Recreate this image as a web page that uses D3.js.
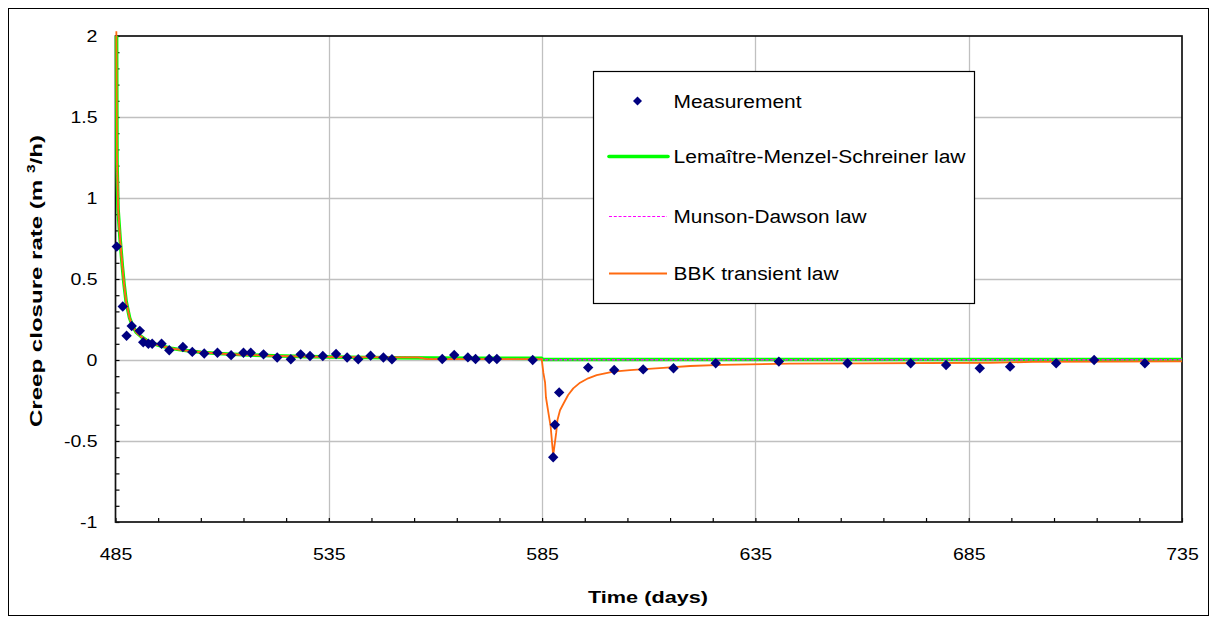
<!DOCTYPE html>
<html>
<head>
<meta charset="utf-8">
<script src="https://cdn.jsdelivr.net/npm/d3@7"></script>
<style>
  body { margin: 0; background: #fff; }
  svg { display: block; }
  text { font-family: "Liberation Sans", Arial, sans-serif; fill: #000; }
</style>
</head>
<body>
<svg id="chart" width="1217" height="624"></svg>
<script>
// ---- Measured creep closure rate (days, m3/h) ----
const measDay = [485.3, 486.7, 487.6, 488.8, 490.7, 491.5, 492.7, 493.6, 495.8, 497.6,
  500.8, 503.0, 505.8, 508.9, 512.1, 515.0, 516.7, 519.7, 522.9, 526.1,
  528.4, 530.6, 533.6, 536.7, 539.3, 541.9, 544.8, 547.8, 549.8, 561.6,
  564.4, 567.6, 569.4, 572.6, 574.4, 582.8, 587.6, 588.0, 589.0, 595.8,
  601.9, 608.7, 615.8, 625.7, 640.5, 656.6, 671.4, 679.7, 687.6, 694.7,
  705.5, 714.4, 726.3];
const measRate = [0.70, 0.33, 0.15, 0.21, 0.18, 0.11, 0.10, 0.10, 0.10, 0.06,
  0.08, 0.05, 0.04, 0.045, 0.03, 0.045, 0.045, 0.035, 0.015, 0.005,
  0.035, 0.025, 0.025, 0.037, 0.015, 0.005, 0.027, 0.015, 0.005, 0.006,
  0.031, 0.016, 0.006, 0.006, 0.006, 0.0, -0.60, -0.40, -0.20, -0.047,
  -0.062, -0.058, -0.051, -0.02, -0.01, -0.02, -0.02, -0.031, -0.051, -0.041,
  -0.02, 0.0, -0.02];

// ---- Lemaître-Menzel-Schreiner law ----
const lmsDay = [485.25, 485.35, 485.6, 486.1, 486.6, 487.0, 487.5, 488.3, 489.0, 489.9,
  491.0, 492.3, 494.0, 495.5, 498.0, 501.0, 505.0, 509.0, 515.0, 522.0,
  530.0, 540.0, 550.0, 560.0, 570.0, 584.9, 585.2, 620.0, 680.0, 735.0];
const lmsRate = [2.0, 1.22, 0.93, 0.74, 0.58, 0.47, 0.36, 0.26, 0.21, 0.17,
  0.145, 0.12, 0.10, 0.088, 0.072, 0.06, 0.048, 0.04, 0.032, 0.026,
  0.021, 0.017, 0.014, 0.012, 0.011, 0.010, 0.003, 0.003, 0.003, 0.003];

// ---- Munson-Dawson law ----
const mdDay = [485.35, 485.6, 486.1, 486.6, 487.0, 487.5, 488.3, 489.0, 489.9, 491.0,
  492.3, 494.0, 495.5, 498.0, 501.0, 505.0, 509.0, 515.0, 522.0, 530.0,
  540.0, 550.0, 556.0, 558.0, 584.9, 585.2, 620.0, 680.0, 735.0];
const mdRate = [1.25, 0.94, 0.74, 0.58, 0.47, 0.36, 0.26, 0.21, 0.17, 0.145,
  0.12, 0.10, 0.088, 0.072, 0.06, 0.048, 0.04, 0.032, 0.026, 0.021,
  0.018, 0.016, 0.016, 0.006, 0.005, 0.002, 0.002, 0.002, 0.002];

// ---- BBK transient law ----
const bbkDay = [485.2, 485.35, 485.6, 486.1, 486.6, 487.0, 487.5, 488.3, 489.0, 489.9,
  491.0, 492.3, 494.0, 495.5, 498.0, 501.0, 505.0, 509.0, 515.0, 522.0,
  530.0, 540.0, 550.0, 556.0, 558.0, 584.9, 585.3, 585.7, 585.9, 586.5,
  587.0, 587.4, 587.6, 587.9, 588.3, 588.6, 589.2, 590.0, 591.1, 592.3,
  593.9, 595.8, 597.8, 601.7, 605.6, 613.4, 619.7, 627.0, 643.0, 660.0,
  690.0, 700.0, 735.0];
const bbkRate = [2.03, 1.25, 0.94, 0.74, 0.58, 0.47, 0.36, 0.26, 0.21, 0.17,
  0.145, 0.12, 0.10, 0.088, 0.072, 0.06, 0.048, 0.04, 0.032, 0.026,
  0.021, 0.018, 0.016, 0.016, 0.006, 0.005, -0.08, -0.14, -0.23, -0.33,
  -0.41, -0.53, -0.59, -0.53, -0.45, -0.37, -0.31, -0.27, -0.216, -0.175,
  -0.14, -0.113, -0.093, -0.072, -0.062, -0.049, -0.037, -0.03, -0.022, -0.021,
  -0.017, -0.012, -0.008];

// ---- Axis ticks and labels ----
const xTicks = [485, 535, 585, 635, 685, 735];
const yTicks = [2, 1.5, 1, 0.5, 0, -0.5, -1];
const xMinorStep = 10;
const yMinorStep = 0.1;

const seriesNames = ["Measurement", "Lemaître-Menzel-Schreiner law", "Munson-Dawson law", "BBK transient law"];

const svg = d3.select("#chart");
const W = 1217, H = 624;

const x = d3.scaleLinear().domain([485, 735]).range([115.5, 1182]);
const y = d3.scaleLinear().domain([-1, 2]).range([522, 36]);

// widen a text element to a given factor of its natural length
function widen(sel, k) {
  sel.each(function () {
    const w = this.getComputedTextLength();
    this.setAttribute("textLength", (w * k).toFixed(1));
    this.setAttribute("lengthAdjust", "spacingAndGlyphs");
  });
}
function fitTo(sel, len) {
  sel.attr("textLength", len).attr("lengthAdjust", "spacingAndGlyphs");
}

// outer frame
svg.append("rect").attr("x", 8.5).attr("y", 8.5).attr("width", W - 17).attr("height", H - 17)
  .attr("fill", "#fff").attr("stroke", "#000").attr("stroke-width", 1);

// grid lines
const grid = svg.append("g");
grid.selectAll("line.h").data(yTicks.slice(1, -1)).join("line")
  .attr("x1", x(485)).attr("x2", x(735))
  .attr("y1", d => Math.round(y(d)) + 0.5).attr("y2", d => Math.round(y(d)) + 0.5)
  .attr("stroke", "#c0c0c0").attr("stroke-width", 1.3);
grid.selectAll("line.v").data(xTicks.slice(1, -1)).join("line")
  .attr("y1", y(2)).attr("y2", y(-1))
  .attr("x1", d => Math.round(x(d)) + 0.5).attr("x2", d => Math.round(x(d)) + 0.5)
  .attr("stroke", "#c0c0c0").attr("stroke-width", 1.3);

// inward minor ticks via d3 axes
const yMinor = d3.range(-1, 2 + 1e-9, yMinorStep);
const xMinor = d3.range(485, 735 + 1e-9, xMinorStep);
const yTickAxis = svg.append("g").attr("transform", `translate(${x(485)},0)`)
  .call(d3.axisLeft(y).tickValues(yMinor).tickSize(-4).tickFormat(""));
const xTickAxis = svg.append("g").attr("transform", `translate(0,${y(-1)})`)
  .call(d3.axisBottom(x).tickValues(xMinor).tickSize(-4).tickFormat(""));
[yTickAxis, xTickAxis].forEach(g => {
  g.select(".domain").remove();
  g.selectAll("line").attr("stroke", "#000").attr("stroke-width", 1.2);
});

// plot frame
svg.append("rect").attr("x", x(485)).attr("y", y(2))
  .attr("width", x(735) - x(485)).attr("height", y(-1) - y(2))
  .attr("fill", "none").attr("stroke", "#111").attr("stroke-width", 1.7);

// tick labels
const yLab = svg.append("g").attr("transform", `translate(${x(485)},0)`)
  .call(d3.axisLeft(y).tickValues(yTicks).tickSize(0).tickPadding(18).tickFormat(d => String(d)));
yLab.select(".domain").remove();
yLab.selectAll("text").attr("font-size", 16).attr("font-family", "Liberation Sans, Arial, sans-serif")
  .attr("fill", "#000").call(widen, 1.22);

const xLab = svg.append("g").attr("transform", `translate(0,${y(-1)})`)
  .call(d3.axisBottom(x).tickValues(xTicks).tickSize(0).tickPadding(27).tickFormat(d => String(d)));
xLab.select(".domain").remove();
xLab.selectAll("text").attr("font-size", 16).attr("font-family", "Liberation Sans, Arial, sans-serif")
  .attr("fill", "#000").call(widen, 1.22);

// axis titles
svg.append("text").attr("x", 648).attr("y", 603).attr("text-anchor", "middle")
  .attr("font-size", 17).attr("font-weight", "bold").text("Time (days)").call(fitTo, 120);

const yt = svg.append("text").attr("transform", "translate(42,281) rotate(-90)")
  .attr("text-anchor", "middle").attr("font-size", 17).attr("font-weight", "bold");
yt.append("tspan").text("Creep closure rate (m ");
yt.append("tspan").attr("font-size", 11).attr("dy", -7).text("3");
yt.append("tspan").attr("dy", 7).text("/h)");
yt.call(fitTo, 292);

// curves
const plot = svg.append("g");
const lineGen = d3.line().x(d => x(d[0])).y(d => y(d[1]));
const lmsPts = d3.zip(lmsDay, lmsRate);
const mdPts = d3.zip(mdDay, mdRate);
const bbkPts = d3.zip(bbkDay, bbkRate);

plot.append("path").datum(lmsPts).attr("d", lineGen)
  .attr("fill", "none").attr("stroke", "#00ff00").attr("stroke-width", 3.6).attr("stroke-linejoin", "round");
plot.append("path").datum(mdPts).attr("d", lineGen)
  .attr("fill", "none").attr("stroke", "#ff00ff").attr("stroke-width", 1.4).attr("stroke-dasharray", "3,1.8");
plot.append("path").datum(bbkPts).attr("d", lineGen)
  .attr("fill", "none").attr("stroke", "#ff6a10").attr("stroke-width", 1.8).attr("stroke-linejoin", "round");

// measurement diamonds
const diamond = r => `M0,${-r}L${r},0L0,${r}L${-r},0Z`;
plot.selectAll("path.meas").data(d3.zip(measDay, measRate)).join("path")
  .attr("class", "meas")
  .attr("transform", d => `translate(${x(d[0])},${y(d[1])})`)
  .attr("d", diamond(5.2)).attr("fill", "#000080");

// legend
const lg = svg.append("g");
lg.append("rect").attr("x", 593.5).attr("y", 71.5).attr("width", 381).attr("height", 232)
  .attr("fill", "#fff").attr("stroke", "#000").attr("stroke-width", 1.2);
const legY = [101, 156.5, 216.5, 273.5];
const legLen = [128, 292, 193, 165];
lg.append("path").attr("transform", `translate(637.5,${legY[0]})`).attr("d", diamond(4.5)).attr("fill", "#000080");
lg.append("line").attr("x1", 609).attr("x2", 668).attr("y1", legY[1]).attr("y2", legY[1])
  .attr("stroke", "#00ff00").attr("stroke-width", 3.6).attr("stroke-linecap", "round");
lg.append("line").attr("x1", 609).attr("x2", 667).attr("y1", legY[2]).attr("y2", legY[2])
  .attr("stroke", "#ff00ff").attr("stroke-width", 1.2).attr("stroke-dasharray", "3,1.8");
lg.append("line").attr("x1", 609).attr("x2", 667).attr("y1", legY[3]).attr("y2", legY[3])
  .attr("stroke", "#ff6a10").attr("stroke-width", 1.8);
seriesNames.forEach((name, i) => {
  lg.append("text").attr("x", 673.5).attr("y", legY[i] + 6.5).attr("font-size", 18)
    .text(name).call(fitTo, legLen[i]);
});
</script>
</body>
</html>
